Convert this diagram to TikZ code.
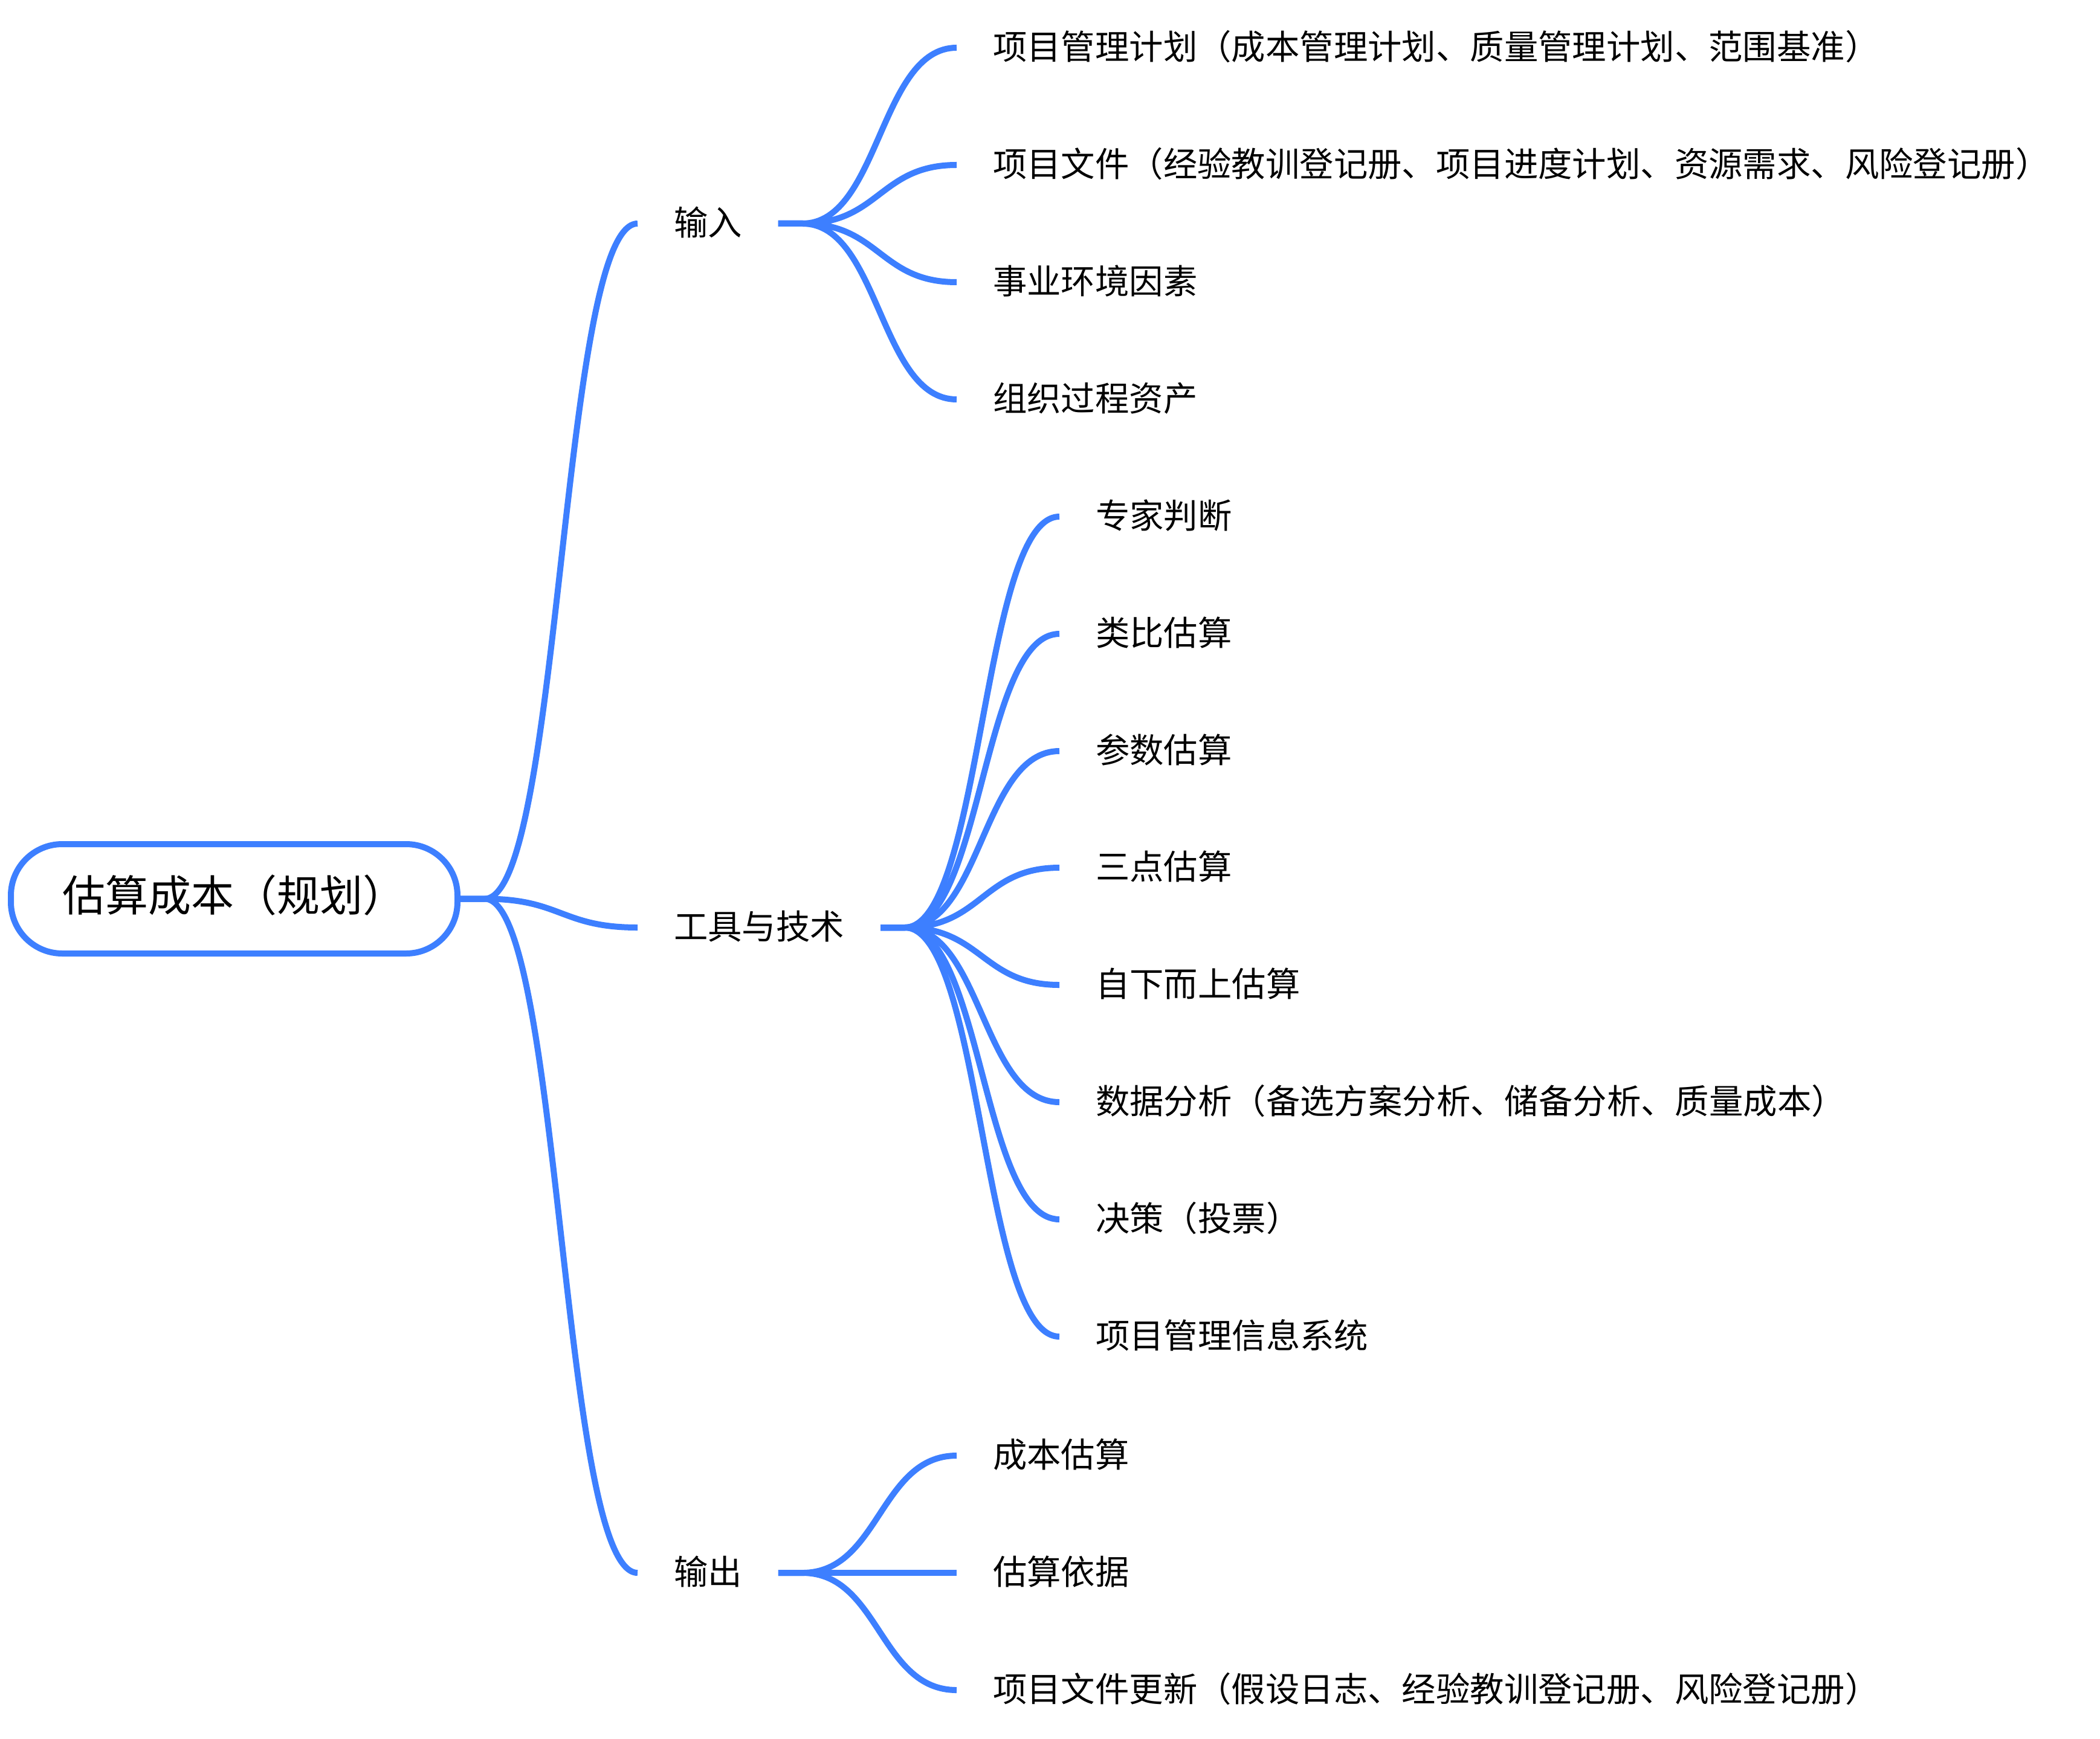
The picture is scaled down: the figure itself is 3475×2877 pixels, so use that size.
\documentclass[tikz,border=0pt]{standalone}
\usepackage{fontspec}
\setmainfont{Noto Sans CJK SC}
\usetikzlibrary{calc}
\definecolor{branchblue}{RGB}{61,127,255}
\begin{document}
\begin{tikzpicture}[x=0.25pt,y=-0.25pt,
  topic/.style={anchor=west, inner xsep=15pt, inner ysep=0pt, outer sep=0pt,
    font=\fontsize{14.1pt}{17pt}\selectfont, text height=1.03em, text depth=0.07em},
  central/.style={draw=branchblue, line width=2.5pt, rounded corners=21.25pt,
    minimum width=184.75pt, minimum height=45.25pt, inner sep=0pt,
    font=\fontsize{17.75pt}{21pt}\selectfont, text height=1.12em, text depth=0.07em},
  link/.style={draw=branchblue, line width=2.5pt},
  branch/.style={to path={
    let \p1=(\tikztostart), \p2=(\tikztotarget),
        \p3=($(\p1)+(40,0)$), \p4=($(\p3)!0.5!(\p2)$) in
    -- (\p3) .. controls (\x4,\y3) and (\x4,\y2) .. (\p2)}}
]
\fill[white] (0,0) rectangle (3475,2877);
\useasboundingbox (0,0) rectangle (3475,2877);

% central topic
\node[central] (root) at (387.5,1487.5) {估算成本（规划）};

% main branches
\node[topic] (in)    at (1055,370)  {输入};
\node[topic] (tools) at (1055,1535) {工具与技术};
\node[topic] (out)   at (1055,2603) {输出};

% inputs
\node[topic] (i1) at (1583,79)  {项目管理计划（成本管理计划、质量管理计划、范围基准）};
\node[topic] (i2) at (1583,273) {项目文件（经验教训登记册、项目进度计划、资源需求、风险登记册）};
\node[topic] (i3) at (1583,467) {事业环境因素};
\node[topic] (i4) at (1583,661) {组织过程资产};

% tools and techniques
\node[topic] (t1) at (1753,855)  {专家判断};
\node[topic] (t2) at (1753,1049) {类比估算};
\node[topic] (t3) at (1753,1243) {参数估算};
\node[topic] (t4) at (1753,1436) {三点估算};
\node[topic] (t5) at (1753,1630) {自下而上估算};
\node[topic] (t6) at (1753,1824) {数据分析（备选方案分析、储备分析、质量成本）};
\node[topic] (t7) at (1753,2018) {决策（投票）};
\node[topic] (t8) at (1753,2212) {项目管理信息系统};

% outputs
\node[topic] (o1) at (1583,2409) {成本估算};
\node[topic] (o2) at (1583,2603) {估算依据};
\node[topic] (o3) at (1583,2797) {项目文件更新（假设日志、经验教训登记册、风险登记册）};

% connectors
\foreach \c in {in,tools,out}
  \draw[link] (root.east) to[branch] (\c.west);
\foreach \c in {i1,i2,i3,i4}
  \draw[link] (in.east) to[branch] (\c.west);
\foreach \c in {t1,t2,t3,t4,t5,t6,t7,t8}
  \draw[link] (tools.east) to[branch] (\c.west);
\foreach \c in {o1,o2,o3}
  \draw[link] (out.east) to[branch] (\c.west);
\end{tikzpicture}
\end{document}
